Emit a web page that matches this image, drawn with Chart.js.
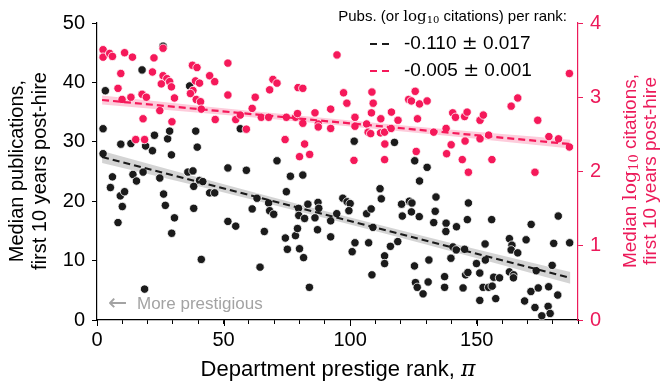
<!DOCTYPE html>
<html lang="en">
<head>
<meta charset="UTF-8">
<title>Publications and citations by prestige rank</title>
<style>
    html, body { margin: 0; padding: 0; background: #fff; }
    #wrap { width: 662px; height: 383px; }
</style>
<script src="https://cdn.jsdelivr.net/npm/chart.js"></script>
</head>
<body>
<div id="wrap"><canvas id="chart" width="662" height="383"></canvas></div>
<script>
// median publications per department (left axis)
const pubRank = [2.4,3.3,2.4,6.1,5.3,9.2,10.9,10.0,8.3,9.4,13.4,14.2,15.6,17.8,18.2,18.8,19.2,21.9,22.7,24.8,
    26.1,26.3,27.0,27.9,28.7,29.4,30.6,29.5,35.9,37.9,36.6,38.2,38.2,39.0,39.6,40.5,41.8,41.2,44.5,46.5,
    51.7,51.7,54.8,56.6,59.0,61.3,63.2,64.4,66.1,67.8,68.2,69.8,71.1,74.8,76.4,74.4,75.2,78.4,79.2,79.6,
    79.7,82.0,81.3,83.3,80.0,81.6,83.9,87.3,87.6,86.1,87.1,92.3,92.3,94.7,97.1,98.8,100.0,99.5,101.6,101.9,
    100.8,107.3,106.5,108.3,109.0,108.6,111.8,112.3,113.6,113.6,115.9,118.8,117.5,120.3,123.4,124.4,120.6,124.2,127.3,125.5,
    127.4,130.4,125.4,125.8,126.5,128.8,130.8,131.1,133.9,133.6,133.0,137.9,137.8,142.0,137.3,137.3,140.6,141.9,139.8,145.2,
    145.6,146.5,144.6,146.7,146.3,149.9,151.2,153.4,153.3,152.5,154.7,156.1,151.2,157.5,156.7,159.0,155.9,162.9,163.9,163.6,
    166.2,162.9,164.6,164.5,169.5,171.5,173.5,168.9,171.4,174.3,173.0,178.4,178.2,179.0,175.7,182.0,179.8,180.4,182.2,186.7];
const pubMedian = [28.0,38.6,32.2,24.1,22.3,20.9,21.6,19.1,16.4,29.6,29.7,24.5,23.4,42.1,24.9,5.2,29.3,28.5,31.1,23.9,
    46.1,21.2,19.3,30.5,31.8,27.8,17.2,14.6,24.9,25.1,39.4,22.5,18.8,31.8,29.1,23.5,23.3,10.2,21.4,21.4,
    25.6,16.6,15.8,32.2,25.2,18.7,20.5,8.9,14.9,19.7,18.4,17.8,26.8,21.6,24.2,13.8,11.9,14.2,15.4,18.8,
    17.6,17.1,24.4,19.5,12.0,10.5,5.5,19.8,18.8,17.2,15.2,16.7,14.0,17.9,20.5,19.9,19.6,18.4,30.1,13.0,
    11.5,13.0,17.9,18.7,15.6,7.6,22.1,20.4,10.8,9.5,12.4,13.2,29.9,19.5,20.0,19.7,17.5,18.2,17.4,26.8,
    23.4,25.7,9.1,6.3,5.5,4.4,6.4,10.1,20.7,18.3,16.4,16.3,14.9,15.7,7.3,5.5,12.3,11.8,10.4,11.9,
    7.6,8.0,5.4,19.7,16.9,9.5,7.9,10.1,12.8,5.5,5.5,5.7,3.3,3.6,7.2,7.1,16.9,13.7,12.6,11.8,
    11.3,8.1,7.6,7.1,13.5,16.1,8.3,3.2,4.8,5.4,2.1,5.6,2.3,1.1,0.7,4.2,9.2,12.9,17.5,13.0];

// median log10 citations per department (right axis)
const citRank = [2.4,2.4,5.0,6.1,10.9,14.0,22.5,26.1,9.4,8.3,9.9,13.4,21.9,17.8,19.5,18.2,24.8,26.1,27.6,28.7,
    25.4,29.4,30.6,29.6,15.3,18.8,37.7,39.5,38.9,40.5,37.9,36.9,39.2,40.9,41.2,44.5,46.5,46.7,51.7,51.7,
    54.8,56.6,59.0,61.3,62.5,64.9,67.8,68.2,69.5,71.1,74.8,78.4,74.3,79.4,81.3,79.2,81.3,82.0,80.0,84.0,
    86.1,87.4,87.4,92.3,92.3,94.8,97.4,98.7,101.9,101.9,101.5,106.5,107.1,108.1,108.6,109.1,108.4,112.1,112.0,113.6,
    116.3,116.2,118.9,113.7,113.6,123.1,124.2,125.7,126.6,127.4,130.4,126.1,133.0,137.9,140.5,141.6,145.2,146.2,145.4,139.9,
    138.1,144.3,151.3,152.6,151.3,154.7,156.0,146.7,163.6,166.2,174.1,178.5,182.3,186.6,186.6,173.0];
const citMedian = [3.64,3.54,3.59,3.55,3.60,3.54,3.53,3.66,3.32,3.12,2.97,3.00,3.34,3.04,3.00,2.71,2.82,3.29,3.25,3.21,
    3.18,3.14,2.99,2.67,2.43,2.43,3.43,3.40,3.22,3.19,3.09,3.05,2.97,2.94,2.84,3.29,3.21,2.70,3.46,3.03,
    2.70,2.76,2.57,2.85,3.00,2.73,2.73,3.10,3.24,3.19,2.73,2.73,2.43,3.13,3.12,2.78,2.65,2.37,2.20,2.23,
    2.79,2.64,2.60,2.84,2.58,3.57,3.06,2.92,2.73,2.61,2.15,2.64,2.53,2.51,3.07,2.92,2.79,2.71,2.52,2.53,
    2.80,2.58,2.69,2.37,2.16,2.97,2.95,3.08,2.71,2.91,2.95,2.27,2.53,2.58,2.79,2.73,2.74,2.80,2.41,2.36,
    2.24,2.16,2.69,2.76,2.44,2.49,2.16,1.99,2.88,2.99,2.69,2.47,2.44,2.33,3.32,1.99];

// fitted lines (end points) and confidence band half widths
const fitRank = [2, 187];
const pubFit = [27.44, 7.09];
const citFit = [2.963, 2.369];
const bandRank = [2, 30, 60, 95, 130, 160, 187];
const pubBandHalf = [1.0, 0.8, 0.65, 0.6, 0.65, 0.8, 1.0];
const citBandHalf = [0.06, 0.05, 0.042, 0.04, 0.042, 0.05, 0.06];

const legendTitle = 'Pubs. (or log10 citations) per rank:';
const legendSlopes = ['-0.110 \u00b1 0.017', '-0.005 \u00b1 0.001'];

const SANS = '"Liberation Sans", Arial, Helvetica, sans-serif';
const SERIF = '"DejaVu Serif", "Liberation Serif", serif';
const BLACK = '#1b1b1b';
const PINK = '#f5195a';
const PINK_AXIS = '#ec1a5a';

function fitAt(ys, x) {
    const t = (x - fitRank[0]) / (fitRank[1] - fitRank[0]);
    return ys[0] + t * (ys[1] - ys[0]);
}
const band = (ys, half, sign) => bandRank.map((x, i) => ({ x: x, y: fitAt(ys, x) + sign * half[i] }));
const pts = (xs, ys) => xs.map((x, i) => ({ x: x, y: ys[i] }));

// draws a row of text pieces, each with its own font
function drawParts(ctx, parts, x, y, align) {
    let w = 0;
    parts.forEach(p => { ctx.font = p.f; w += ctx.measureText(p.t).width; });
    let cx = align === 'right' ? x - w : (align === 'center' ? x - w / 2 : x);
    parts.forEach(p => {
        ctx.font = p.f;
        ctx.fillText(p.t, cx, y + (p.dy || 0));
        cx += ctx.measureText(p.t).width;
    });
}

function slopeParts(s, size) {
    const [a, b] = s.split('\u00b1');
    return [
        { t: a, f: size + 'px ' + SANS },
        { t: '\u00b1', f: size + 'px ' + SERIF },
        { t: b, f: size + 'px ' + SANS }
    ];
}

const decor = {
    id: 'decor',
    afterDraw(chart) {
        const ctx = chart.ctx;
        const xs = chart.scales.x;
        const bottom = chart.chartArea.bottom;
        ctx.save();

        // longer marks at the labelled x ticks
        ctx.strokeStyle = '#000';
        ctx.lineWidth = 1;
        [0, 50, 100, 150].forEach(v => {
            const px = Math.round(xs.getPixelForValue(v)) + 0.5;
            ctx.beginPath();
            ctx.moveTo(px, bottom);
            ctx.lineTo(px, bottom + 6);
            ctx.stroke();
        });

        ctx.textBaseline = 'middle';
        ctx.fillStyle = '#000';

        // x axis title
        drawParts(ctx, [
            { t: 'Department prestige rank, ', f: '22px ' + SANS },
            { t: '\u03c0', f: 'italic 22px ' + SERIF }
        ], 338, 370, 'center');

        // left axis title
        ctx.save();
        ctx.translate(0, 171);
        ctx.rotate(-Math.PI / 2);
        drawParts(ctx, [{ t: 'Median publications,', f: '20px ' + SANS }], 0, 17, 'center');
        drawParts(ctx, [{ t: 'first 10 years post-hire', f: '20px ' + SANS }], 0, 40, 'center');
        ctx.restore();

        // right axis title
        ctx.save();
        ctx.fillStyle = PINK_AXIS;
        ctx.translate(0, 171);
        ctx.rotate(-Math.PI / 2);
        drawParts(ctx, [
            { t: 'Median ', f: '19px ' + SANS },
            { t: 'log', f: '19px ' + SERIF },
            { t: '10', f: '13px ' + SERIF, dy: 4 },
            { t: ' citations,', f: '19px ' + SANS }
        ], 0, 631, 'center');
        drawParts(ctx, [{ t: 'first 10 years post-hire', f: '19px ' + SANS }], 0, 651, 'center');
        ctx.restore();

        // legend
        const tp = legendTitle.split('log10');
        drawParts(ctx, [
            { t: tp[0], f: '15px ' + SANS },
            { t: 'log', f: '15px ' + SERIF },
            { t: '10', f: '10px ' + SERIF, dy: 3 },
            { t: tp[1], f: '15px ' + SANS }
        ], 567, 17, 'right');
        const rowY = [44, 71];
        const rowColor = [BLACK, PINK];
        legendSlopes.forEach((s, i) => {
            ctx.strokeStyle = rowColor[i];
            ctx.lineWidth = 2.2;
            ctx.setLineDash([7, 5]);
            ctx.beginPath();
            ctx.moveTo(370, rowY[i]);
            ctx.lineTo(392, rowY[i]);
            ctx.stroke();
            ctx.setLineDash([]);
            ctx.fillStyle = '#000';
            drawParts(ctx, slopeParts(s, 19), 404, rowY[i], 'left');
        });

        // prestige hint
        ctx.fillStyle = '#a3a3a3';
        drawParts(ctx, [{ t: '\u2190', f: '23px "DejaVu Sans", ' + SANS }], 108, 304, 'left');
        drawParts(ctx, [{ t: 'More prestigious', f: '17px ' + SANS }], 137, 304, 'left');

        ctx.restore();
    }
};

const tickFont = { family: SANS, size: 20 };

new Chart(document.getElementById('chart'), {
    data: {
        datasets: [
            { type: 'line', data: band(pubFit, pubBandHalf, 1), yAxisID: 'y', borderWidth: 0, pointRadius: 0,
              fill: '+1', backgroundColor: 'rgba(160,160,160,0.45)', cubicInterpolationMode: 'monotone', order: 10 },
            { type: 'line', data: band(pubFit, pubBandHalf, -1), yAxisID: 'y', borderWidth: 0, pointRadius: 0,
              fill: false, cubicInterpolationMode: 'monotone', order: 10 },
            { type: 'line', data: band(citFit, citBandHalf, 1), yAxisID: 'y2', borderWidth: 0, pointRadius: 0,
              fill: '+1', backgroundColor: 'rgba(245,25,90,0.22)', cubicInterpolationMode: 'monotone', order: 9 },
            { type: 'line', data: band(citFit, citBandHalf, -1), yAxisID: 'y2', borderWidth: 0, pointRadius: 0,
              fill: false, cubicInterpolationMode: 'monotone', order: 9 },
            { type: 'scatter', data: pts(pubRank, pubMedian), yAxisID: 'y', backgroundColor: BLACK,
              borderColor: '#fff', borderWidth: 0.8, pointRadius: 4.2, order: 5 },
            { type: 'scatter', data: pts(citRank, citMedian), yAxisID: 'y2', backgroundColor: PINK,
              borderColor: '#fff', borderWidth: 0.8, pointRadius: 4.2, order: 4 },
            { type: 'line', data: pts(fitRank, pubFit), yAxisID: 'y', borderColor: BLACK, borderWidth: 2.2,
              borderDash: [7, 4], pointRadius: 0, fill: false, order: 1 },
            { type: 'line', data: pts(fitRank, citFit), yAxisID: 'y2', borderColor: PINK, borderWidth: 2.2,
              borderDash: [7, 4], pointRadius: 0, fill: false, order: 0 }
        ]
    },
    options: {
        responsive: false,
        animation: false,
        events: [],
        layout: { padding: { top: 23, left: 0, right: 0, bottom: 0 } },
        plugins: { legend: { display: false }, tooltip: { enabled: false } },
        scales: {
            x: {
                type: 'linear', min: 0, max: 190,
                afterFit: s => { s.height = 63; },
                ticks: { stepSize: 10, autoSkip: false, maxRotation: 0, padding: 4, color: '#000', font: tickFont,
                         callback: v => (v % 50 === 0 ? String(v) : '') },
                grid: { drawOnChartArea: false, drawTicks: true, tickLength: 4, color: '#000' },
                border: { display: true, color: '#000', width: 1.2 }
            },
            y: {
                type: 'linear', position: 'left', min: 0, max: 50,
                afterFit: s => { s.width = 97; },
                ticks: { stepSize: 10, padding: 7, color: '#000', font: tickFont },
                grid: { drawOnChartArea: false, drawTicks: true, tickLength: 5, color: '#000' },
                border: { display: true, color: '#000', width: 1.2 }
            },
            y2: {
                type: 'linear', position: 'right', min: 0, max: 4,
                afterFit: s => { s.width = 84; },
                ticks: { stepSize: 1, padding: 7, color: PINK_AXIS, font: tickFont },
                grid: { drawOnChartArea: false, drawTicks: true, tickLength: 5, color: PINK_AXIS },
                border: { display: true, color: PINK_AXIS, width: 1.2 }
            }
        }
    },
    plugins: [decor]
});
</script>
</body>
</html>
